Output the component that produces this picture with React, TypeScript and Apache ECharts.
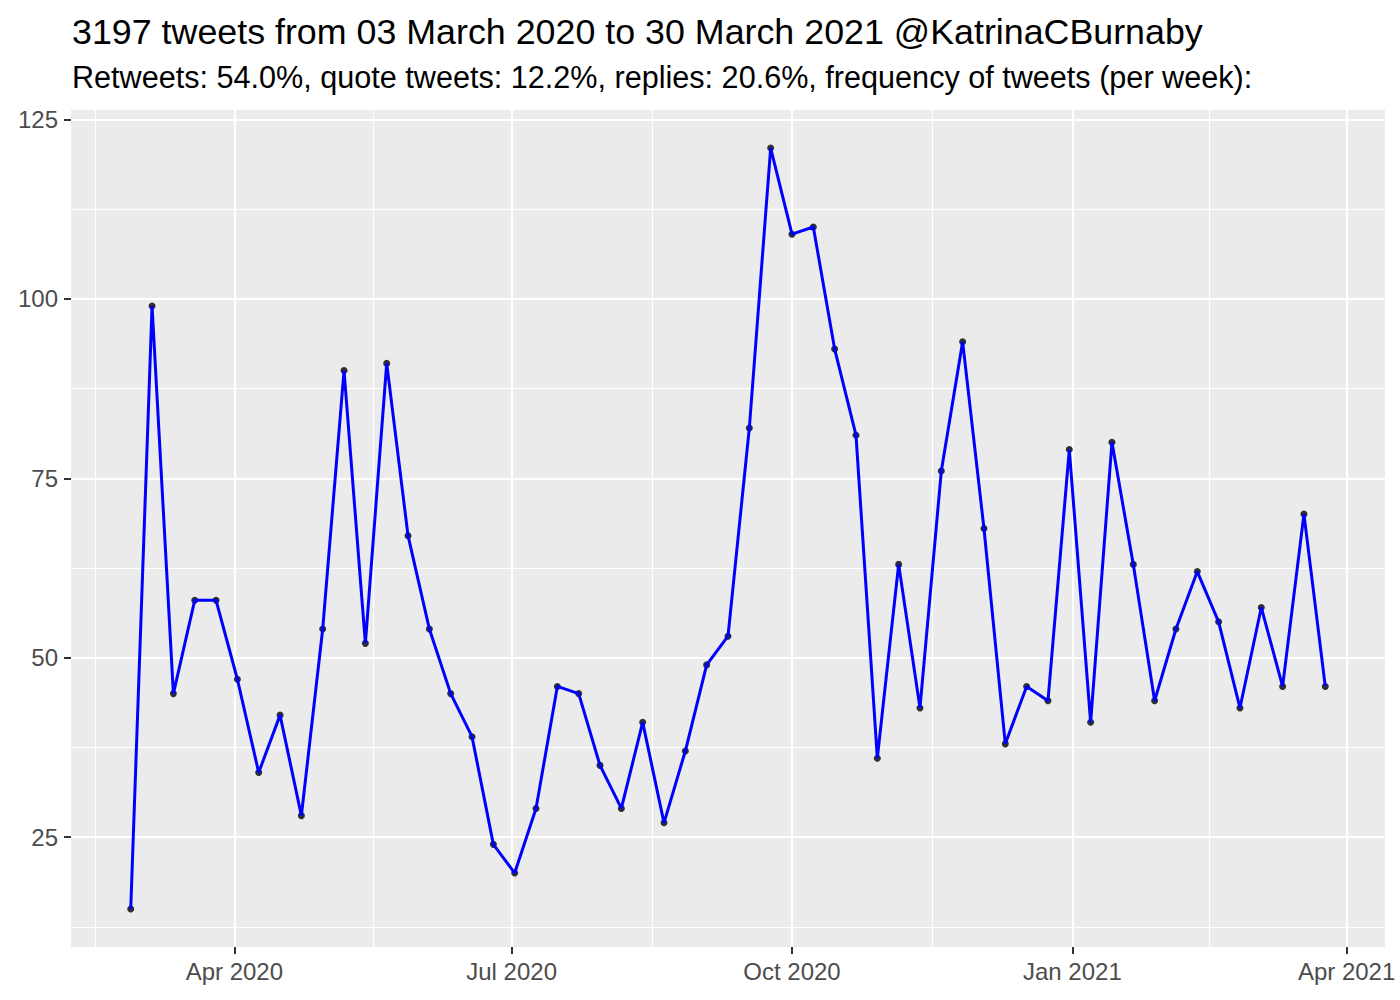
import React, { useEffect, useRef } from "react";
import * as echarts from "echarts";

const titleText = "3197 tweets from 03 March 2020 to 30 March 2021 @KatrinaCBurnaby";
const subtitleText =
  "Retweets: 54.0%, quote tweets: 12.2%, replies: 20.6%, frequency of tweets (per week):";

const weekDates = [
  "2020-02-27", "2020-03-05", "2020-03-12", "2020-03-19", "2020-03-26",
  "2020-04-02", "2020-04-09", "2020-04-16", "2020-04-23", "2020-04-30",
  "2020-05-07", "2020-05-14", "2020-05-21", "2020-05-28",
  "2020-06-04", "2020-06-11", "2020-06-18", "2020-06-25",
  "2020-07-02", "2020-07-09", "2020-07-16", "2020-07-23", "2020-07-30",
  "2020-08-06", "2020-08-13", "2020-08-20", "2020-08-27",
  "2020-09-03", "2020-09-10", "2020-09-17", "2020-09-24",
  "2020-10-01", "2020-10-08", "2020-10-15", "2020-10-22", "2020-10-29",
  "2020-11-05", "2020-11-12", "2020-11-19", "2020-11-26",
  "2020-12-03", "2020-12-10", "2020-12-17", "2020-12-24", "2020-12-31",
  "2021-01-07", "2021-01-14", "2021-01-21", "2021-01-28",
  "2021-02-04", "2021-02-11", "2021-02-18", "2021-02-25",
  "2021-03-04", "2021-03-11", "2021-03-18", "2021-03-25",
];

const tweetCounts = [
  15, 99, 45, 58, 58, 47, 34, 42, 28, 54, 90, 52, 91, 67, 54, 45, 39, 24, 20,
  29, 46, 45, 35, 29, 41, 27, 37, 49, 53, 82, 121, 109, 110, 93, 81, 36, 63,
  43, 76, 94, 68, 38, 46, 44, 79, 41, 80, 63, 44, 54, 62, 55, 43, 57, 46, 70,
  46,
];

const xBreakDates = ["2020-01-01", "2020-04-01", "2020-07-01", "2020-10-01", "2021-01-01", "2021-04-01"];
const xBreakLabels = ["Jan 2020", "Apr 2020", "Jul 2020", "Oct 2020", "Jan 2021", "Apr 2021"];
const yBreaks = [25, 50, 75, 100, 125];
const yMinorBreaks = [12.5, 37.5, 62.5, 87.5, 112.5];

const DAY = 86400000;

export default function App() {
  const ref = useRef<HTMLDivElement>(null);

  useEffect(() => {
    if (!ref.current) return;
    const chart = echarts.init(ref.current, undefined, { renderer: "svg" });

    const xs = weekDates.map((d) => Date.parse(d));
    const xMin0 = Math.min(...xs);
    const xMax0 = Math.max(...xs);
    const xPad = (xMax0 - xMin0) * 0.05;
    const xMin = xMin0 - xPad;
    const xMax = xMax0 + xPad;
    const yMin0 = Math.min(...tweetCounts);
    const yMax0 = Math.max(...tweetCounts);
    const yPad = (yMax0 - yMin0) * 0.05;
    const yMin = yMin0 - yPad;
    const yMax = yMax0 + yPad;

    const breaksTs = xBreakDates.map((d) => Date.parse(d));
    const majorX = breaksTs.filter((t) => t >= xMin && t <= xMax);
    const minorX: number[] = [];
    for (let i = 0; i < breaksTs.length - 1; i++) {
      const m = (breaksTs[i] + breaksTs[i + 1]) / 2;
      if (m >= xMin && m <= xMax) minorX.push(m);
    }

    const pts = xs.map((x, i) => [x, tweetCounts[i]]);

    const gridLines = [
      ...minorX.map((v) => ({ xAxis: v, lineStyle: { color: "#FFFFFF", width: 1.1, type: "solid" } })),
      ...yMinorBreaks.map((v) => ({ yAxis: v, lineStyle: { color: "#FFFFFF", width: 1.1, type: "solid" } })),
      ...majorX.map((v) => ({ xAxis: v, lineStyle: { color: "#FFFFFF", width: 2.2, type: "solid" } })),
      ...yBreaks.map((v) => ({ yAxis: v, lineStyle: { color: "#FFFFFF", width: 2.2, type: "solid" } })),
    ];

    const labelFor = (v: number) => {
      const idx = breaksTs.findIndex((t) => Math.abs(t - v) < DAY / 2);
      return idx >= 0 ? xBreakLabels[idx] : "";
    };

    chart.setOption({
      animation: false,
      backgroundColor: "#FFFFFF",
      textStyle: { fontFamily: "Liberation Sans" },
      graphic: [
        {
          type: "text",
          left: 72,
          top: 14,
          style: { text: titleText, fontSize: 35.8, fill: "#000000", fontFamily: "Liberation Sans" },
        },
        {
          type: "text",
          left: 72,
          top: 61,
          style: { text: subtitleText, fontSize: 30.6, fill: "#000000", fontFamily: "Liberation Sans" },
        },
      ],
      grid: {
        left: 71,
        right: 15,
        top: 110,
        bottom: 53,
        show: true,
        backgroundColor: "#EBEBEB",
        borderWidth: 0,
      },
      xAxis: {
        type: "value",
        min: xMin,
        max: xMax,
        axisLine: { show: false },
        splitLine: { show: false },
        axisTick: {
          show: true,
          customValues: majorX,
          length: 7,
          lineStyle: { color: "#333333", width: 2 },
        },
        axisLabel: {
          customValues: majorX,
          formatter: (v: number) => labelFor(v),
          color: "#4D4D4D",
          fontSize: 24,
          margin: 12,
          fontFamily: "Liberation Sans",
        },
      },
      yAxis: {
        type: "value",
        min: yMin,
        max: yMax,
        axisLine: { show: false },
        splitLine: { show: false },
        axisTick: {
          show: true,
          customValues: yBreaks,
          length: 7,
          lineStyle: { color: "#333333", width: 2 },
        },
        axisLabel: {
          customValues: yBreaks,
          color: "#4D4D4D",
          fontSize: 24,
          margin: 13,
          fontFamily: "Liberation Sans",
        },
      },
      series: [
        {
          type: "line",
          data: [],
          silent: true,
          z: 1,
          markLine: {
            silent: true,
            z: 1,
            symbol: "none",
            label: { show: false },
            animation: false,
            data: gridLines,
          },
        },
        {
          type: "scatter",
          data: pts,
          symbol: "circle",
          symbolSize: 7,
          itemStyle: { color: "#000000" },
          z: 3,
          silent: true,
        },
        {
          type: "line",
          data: pts,
          showSymbol: false,
          symbol: "none",
          lineStyle: { color: "#0000FF", width: 3 },
          z: 4,
          silent: true,
        },
      ],
    });

    return () => chart.dispose();
  }, []);

  return (
    <div
      ref={ref}
      style={{ position: "fixed", left: 0, top: 0, width: 1400, height: 1000 }}
    />
  );
}
